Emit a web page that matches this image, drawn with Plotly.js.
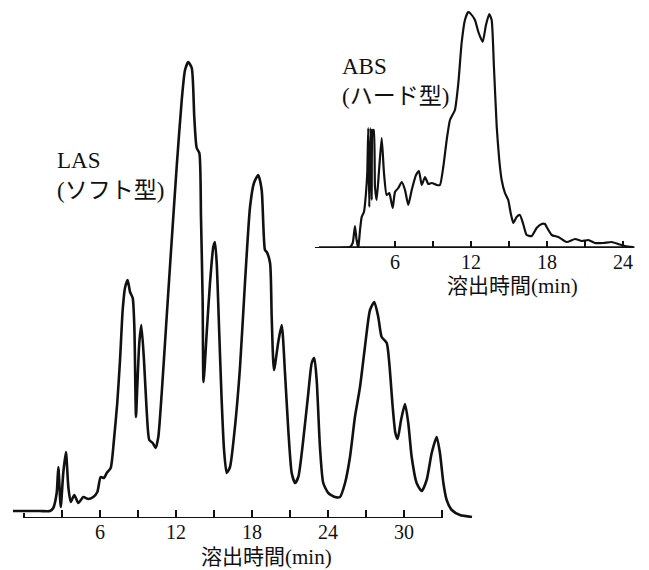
<!DOCTYPE html>
<html>
<head>
<meta charset="utf-8">
<script src="https://cdn.plot.ly/plotly-3.0.1.min.js"></script>
<style>html,body{margin:0;padding:0;background:#fff;}#chart{width:649px;height:570px;}</style>
</head>
<body>
<div id="chart"></div>
<script>
// LAS (soft type) chromatogram: elution time (min) and detector signal (arb. units)
const lasTime = [-0.87,1.26,2.05,2.31,2.58,2.71,2.90,3.10,3.31,3.50,3.69,3.97,4.29,4.68,5.07,5.47,5.79,6.05,6.31,6.53,6.84,7.10,7.36,7.58,7.79,7.97,8.18,8.37,8.58,8.71,8.84,8.94,9.10,9.26,9.47,9.68,9.89,10.16,10.39,10.60,10.87,11.21,11.52,12.05,12.45,12.71,12.97,13.24,13.44,13.63,13.84,13.97,14.10,14.17,14.42,14.68,14.94,15.07,15.21,15.41,15.60,15.79,16.00,16.26,16.65,17.05,17.44,17.84,18.15,18.49,18.76,19.02,19.16,19.42,19.55,19.73,20.07,20.34,20.60,20.86,21.13,21.39,21.65,22.04,22.44,22.71,22.91,23.10,23.36,23.62,24.02,24.55,24.94,25.34,25.73,26.12,26.52,26.91,27.31,27.65,27.96,28.23,28.63,28.83,29.10,29.31,29.49,29.76,30.07,30.33,30.60,30.99,31.39,31.78,32.18,32.57,32.83,33.10,33.36,33.76,34.41,35.36];
const lasSignal = [1,1,1,4,19,45,5,39,60,25,10,17,9,15,13,15,20,35,34,39,44,72,109,152,202,224,232,220,214,185,95,125,169,187,152,102,72,69,64,75,119,185,245,345,412,442,450,444,395,364,359,295,212,130,179,229,265,270,249,179,112,62,39,45,85,145,229,305,329,337,322,262,260,249,195,142,170,187,139,82,39,29,35,72,119,149,154,132,65,29,19,15,15,29,55,95,125,165,202,210,195,175,169,149,105,79,73,92,108,89,55,29,21,32,59,75,59,29,12,2,-3,-5];

// ABS (hard type) chromatogram (inset)
const absTime = [-0.32,1.66,2.45,2.66,2.84,2.97,3.10,3.24,3.37,3.55,3.71,3.81,3.89,3.97,4.08,4.16,4.24,4.32,4.42,4.55,4.76,4.95,5.13,5.34,5.55,5.68,5.82,6.00,6.26,6.53,6.79,7.05,7.32,7.66,7.89,8.11,8.37,8.63,8.90,9.29,9.55,9.81,10.08,10.34,10.73,11.00,11.26,11.52,11.78,11.92,12.31,12.58,12.92,13.18,13.44,13.63,13.81,14.03,14.23,14.42,14.68,14.94,15.13,15.34,15.60,15.86,16.12,16.39,16.79,17.18,17.58,17.84,17.97,18.37,18.90,19.55,20.21,20.74,21.26,21.78,22.44,23.10,23.62,24.15,24.81];
const absSignal = [0,0,1,5,22,8,0,18,31,36,55,75,120,41,120,48,118,118,61,48,81,110,75,53,55,48,40,56,60,66,58,43,58,73,77,63,71,64,65,63,63,81,108,128,138,165,205,228,236,235,228,216,206,223,234,228,181,121,88,68,55,48,35,25,31,33,24,13,12,20,24,24,21,13,11,6,9,7,8,5,5,6,4,2,1];

const mainTickVals = [3,6,9,12,15,18,21,24,27,30,33];
const mainTickText = ['','6','','12','','18','','24','','30',''];
const insetTickVals = [6,9,12,15,18,21,24];
const insetTickText = ['6','','12','','18','','24'];
const axisTitle = '溶出時間(min)';
const lasLabel = ['LAS','(ソフト型)'];
const absLabel = ['ABS','(ハード型)'];

const serif = 'Liberation Serif, "Noto Sans CJK JP", serif';
const mainAxisLevel = -6;   // main time axis sits just below the signal baseline
const mainAxisEnd = 33;
const insetAxisLevel = 0.7;
const insetAxisEnd = 24.9;

const traces = [
  {x: lasTime, y: lasSignal, xaxis:'x', yaxis:'y', mode:'lines',
   line:{color:'#111', width:2.6, shape:'spline', smoothing:0.6}, hoverinfo:'skip'},
  {x: absTime, y: absSignal, xaxis:'x2', yaxis:'y2', mode:'lines',
   line:{color:'#111', width:2.2, shape:'spline', smoothing:0.5}, hoverinfo:'skip'}
];

const tickFont = {family: serif, size: 20, color:'#111'};
const layout = {
  width:649, height:570,
  margin:{l:0, r:0, t:0, b:0},
  paper_bgcolor:'#fff', plot_bgcolor:'rgba(0,0,0,0)',
  showlegend:false,
  xaxis:{domain:[0,1], range:[-1.894, 49.33], anchor:'y',
    tickmode:'array', tickvals:mainTickVals, ticktext:mainTickText,
    ticks:'inside', ticklen:8, tickwidth:2, tickcolor:'#111',
    showline:false, showgrid:false, zeroline:false, tickfont:tickFont},
  yaxis:{domain:[0.091228, 0.908772], range:[-6, 460], visible:false, fixedrange:true},
  xaxis2:{domain:[0,1], range:[-25.18, 26.05], anchor:'y2',
    tickmode:'array', tickvals:insetTickVals, ticktext:insetTickText,
    ticks:'inside', ticklen:7, tickwidth:2, tickcolor:'#111',
    showline:false, showgrid:false, zeroline:false, tickfont:tickFont},
  yaxis2:{domain:[0.564912, 0.985965], range:[0, 240], visible:false, fixedrange:true},
  shapes:[
    {type:'line', xref:'x', yref:'y', x0:0, x1:mainAxisEnd, y0:mainAxisLevel, y1:mainAxisLevel, line:{color:'#111', width:2}},
    {type:'line', xref:'x', yref:'y', x0:0, x1:0, y0:-1, y1:-35, line:{color:'#111', width:2}},
    {type:'line', xref:'x2', yref:'y2', x0:0, x1:insetAxisEnd, y0:insetAxisLevel, y1:insetAxisLevel, line:{color:'#111', width:2}},
    {type:'line', xref:'x2', yref:'y2', x0:0, x1:0, y0:0, y1:-20, line:{color:'#111', width:2}},
    {type:'line', xref:'x2', yref:'y2', x0:3.1, x1:3.1, y0:8, y1:-11, line:{color:'#111', width:2}}
  ],
  annotations:[
    {text: axisTitle, xref:'paper', yref:'paper', x:266/649, y:1-557/570, xanchor:'center', yanchor:'middle',
     showarrow:false, font:{family:serif, size:21, color:'#111'}},
    {text: axisTitle, xref:'paper', yref:'paper', x:512/649, y:1-286/570, xanchor:'center', yanchor:'middle',
     showarrow:false, font:{family:serif, size:21, color:'#111'}},
    {text: lasLabel.join('<br>'), xref:'paper', yref:'paper', x:55/649, y:1-146/570, xanchor:'left', yanchor:'top',
     align:'left', showarrow:false, font:{family:serif, size:23, color:'#111'}},
    {text: absLabel.join('<br>'), xref:'paper', yref:'paper', x:340/649, y:1-52/570, xanchor:'left', yanchor:'top',
     align:'left', showarrow:false, font:{family:serif, size:23, color:'#111'}}
  ]
};

Plotly.newPlot('chart', traces, layout, {staticPlot:true, displayModeBar:false});
</script>
</body>
</html>
